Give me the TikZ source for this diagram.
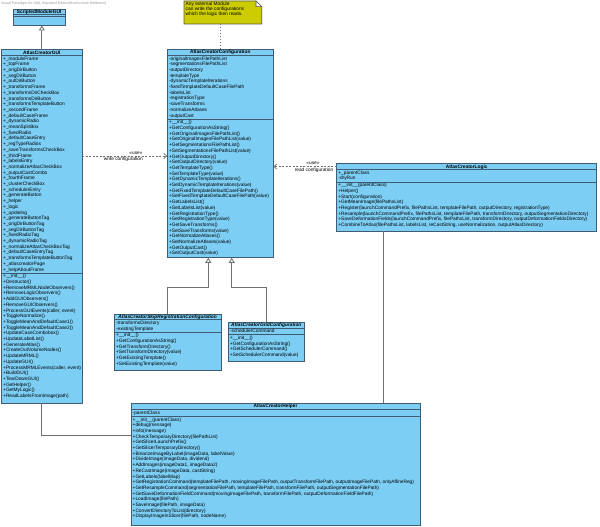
\documentclass[tikz,border=0pt]{standalone}
\usepackage{fontspec}
\setmainfont{Liberation Sans}
\usetikzlibrary{arrows.meta}
\definecolor{clsfill}{RGB}{124,206,244}
\definecolor{clsdraw}{RGB}{64,92,114}
\definecolor{notefill}{RGB}{204,204,0}
\definecolor{notedraw}{RGB}{90,90,60}
\definecolor{conn}{RGB}{112,112,112}
\definecolor{titlegray}{RGB}{150,150,150}
\newcommand\cf{\fontsize{4.8}{5.7}\selectfont}
\begin{document}
\begin{tikzpicture}[x=1pt,y=-1pt,
  cls/.style={draw=clsdraw, fill=clsfill, line width=0.8pt, anchor=north west, inner sep=0pt, outer sep=0pt},
  sepline/.style={draw=clsdraw, line width=0.6pt},
  txt/.style={anchor=north west, inner sep=0pt, align=left, font=\cf},
  hdr/.style={anchor=base, inner sep=0pt, font=\cf\bfseries},
  ahdr/.style={anchor=base, inner sep=0pt, font=\cf\bfseries\itshape},
  gen/.style={draw=conn, line width=0.8pt, -{Triangle[length=5pt, width=6pt, fill=white]}},
  dep/.style={draw=conn, line width=0.7pt, dash pattern=on 2pt off 1.5pt, -{Straight Barb[length=3pt, width=5pt]}},
  notelink/.style={draw=conn, line width=0.7pt, dash pattern=on 1.5pt off 1.5pt},
  assoc/.style={draw=conn, line width=0.8pt},
  lbl/.style={inner sep=0pt, font=\cf},
]
\fill[white] (0,0) rectangle (600,527);
\path[use as bounding box] (0,0) rectangle (600,527);

% title
\node[anchor=west, inner sep=0pt, text=titlegray, font=\fontsize{3.6}{4}\selectfont] (title) at (1,4) {Visual Paradigm for UML Standard Edition(Hochschule Heilbronn)};

% ScriptedModuleGUI
\node[cls, minimum width=52.3pt, minimum height=16.5pt] (smg) at (13,9) {};
\draw[sepline] (13,14.7) -- (65.3,14.7);
\draw[sepline] (13,16.5) -- (65.3,16.5);
\node[hdr] (smg-title) at (39.15,13.5) {ScriptedModuleGUI};

% AtlasCreatorGUI
\node[cls, minimum width=80.3pt, minimum height=353.5pt] (gui) at (1.7,49.5) {};
\draw[sepline] (1.7,55.3) -- (82,55.3);
\draw[sepline] (1.7,273.0) -- (82,273.0);
\node[hdr] (gui-title) at (41.85,54.1) {AtlasCreatorGUI};
\node[txt] (gui-attr) at (3.0,56.0) {\strut+\_moduleFrame\\+\_topFrame\\+\_origDirButton\\+\_segDirButton\\+\_outDirButton\\+\_transformsFrame\\+\_transformsDirCheckBox\\+\_transformsDirButton\\+\_transformsTemplateButton\\+\_secondFrame\\+\_defaultCaseFrame\\+\_dynamicRadio\\+\_meanSpinBox\\+\_fixedRadio\\+\_defaultCaseEntry\\+\_regTypeRadios\\+\_saveTransformsCheckBox\\+\_thirdFrame\\+\_labelsEntry\\+\_normalizeAtlasCheckBox\\+\_outputCastCombo\\+\_fourthFrame\\+\_clusterCheckBox\\+\_schedulerEntry\\+\_generateButton\\+\_helper\\+\_logic\\+\_updating\\+\_generateButtonTag\\+\_origDirButtonTag\\+\_segDirButtonTag\\+\_fixedRadioTag\\+\_dynamicRadioTag\\+\_normalizeAtlasCheckBoxTag\\+\_defaultCaseEntryTag\\+\_transformsTemplateButtonTag\\+\_atlascreatorPage\\+\_helpAboutFrame\strut};
\node[txt] (gui-meth) at (3.0,273.7) {\strut+\_\_init\_\_()\\+Destructor()\\+RemoveMRMLNodeObservers()\\+RemoveLogicObservers()\\+AddGUIObservers()\\+RemoveGUIObservers()\\+ProcessGUIEvents(caller, event)\\+ToggleNormalize()\\+ToggleMeanAndDefaultCase1()\\+ToggleMeanAndDefaultCase2()\\+UpdateCaseCombobox()\\+UpdateLabelList()\\+GenerateAtlas()\\+CreateOutVolumeNodes()\\+UpdateMRML()\\+UpdateGUI()\\+ProcessMRMLEvents(caller, event)\\+BuildGUI()\\+TearDownGUI()\\+GetHelper()\\+GetMyLogic()\\+ReadLabelsFromImage(path)\strut};

% AtlasCreatorConfiguration
\node[cls, minimum width=106pt, minimum height=208.5pt] (cfg) at (167.3,49.3) {};
\draw[sepline] (167.3,55.2) -- (273.3,55.2);
\draw[sepline] (167.3,119.0) -- (273.3,119.0);
\node[hdr] (cfg-title) at (220.3,54.0) {AtlasCreatorConfiguration};
\node[txt] (cfg-attr) at (168.8,55.9) {\strut-originalImagesFilePathList\\-segmentationsFilePathList\\-outputDirectory\\-templateType\\-dynamicTemplateIterations\\-fixedTemplateDefaultCaseFilePath\\-labelsList\\-registrationType\\-saveTransforms\\-normalizeAtlases\\-outputCast\strut};
\node[txt] (cfg-meth) at (168.8,119.7) {\strut+\_\_init\_\_()\\+GetConfigurationAsString()\\+GetOriginalImagesFilePathList()\\+SetOriginalImagesFilePathList(value)\\+GetSegmentationsFilePathList()\\+SetSegmentationsFilePathList(value)\\+GetOutputDirectory()\\+SetOutputDirectory(value)\\+GetTemplateType()\\+SetTemplateType(value)\\+GetDynamicTemplateIterations()\\+SetDynamicTemplateIterations(value)\\+GetFixedTemplateDefaultCaseFilePath()\\+SetFixedTemplateDefaultCaseFilePath(value)\\+GetLabelsList()\\+SetLabelsList(value)\\+GetRegistrationType()\\+SetRegistrationType(value)\\+GetSaveTransforms()\\+SetSaveTransforms(value)\\+GetNormalizeAtlases()\\+SetNormalizeAtlases(value)\\+GetOutputCast()\\+SetOutputCast(value)\strut};

% AtlasCreatorLogic
\node[cls, minimum width=260pt, minimum height=67.5pt] (logic) at (336.7,163.5) {};
\draw[sepline] (336.7,169.4) -- (596.7,169.4);
\draw[sepline] (336.7,181.9) -- (596.7,181.9);
\node[hdr] (logic-title) at (466.7,168.2) {AtlasCreatorLogic};
\node[txt] (logic-attr) at (338.2,170.1) {\strut+\_parentClass\\-dryRun\strut};
\node[txt] (logic-meth) at (338.2,182.6) {\strut+\_\_init\_\_(parentClass)\\+Helper()\\+Start(configuration)\\+GetMeanImage(filePathsList)\\+Register(launchCommandPrefix, filePathsList, templateFilePath, outputDirectory, registrationType)\\+Resample(launchCommandPrefix, filePathsList, templateFilePath, transformDirectory, outputSegmentationDirectory)\\+SaveDeformationFields(launchCommandPrefix, filePathsList, transformDirectory, outputDeformationFieldsDirectory)\\+CombineToAtlas(filePathsList, labelsList, reCastString, useNormalization, outputAtlasDirectory)\strut};

% AtlasCreatorSkipRegistrationConfiguration
\node[cls, minimum width=106.7pt, minimum height=55.7pt] (skip) at (114.3,314.3) {};
\draw[sepline] (114.3,319.5) -- (221,319.5);
\draw[sepline] (114.3,332.0) -- (221,332.0);
\node[ahdr] (skip-title) at (167.65,318.6) {AtlasCreatorSkipRegistrationConfiguration};
\node[txt] (skip-attr) at (115.8,320.2) {\strut-transformsDirectory\\-existingTemplate\strut};
\node[txt] (skip-meth) at (115.8,332.7) {\strut+\_\_init\_\_()\\+GetConfigurationAsString()\\+GetTransformDirectory()\\+SetTransformDirectory(value)\\+GetExistingTemplate()\\+SetExistingTemplate(value)\strut};

% AtlasCreatorGridConfiguration
\node[cls, minimum width=76pt, minimum height=39.4pt] (grid) at (228.3,322.3) {};
\draw[sepline] (228.3,327.8) -- (304.3,327.8);
\draw[sepline] (228.3,334.6) -- (304.3,334.6);
\node[ahdr] (grid-title) at (266.3,326.8) {AtlasCreatorGridConfiguration};
\node[txt] (grid-attr) at (229.8,328.5) {\strut-schedulerCommand\strut};
\node[txt] (grid-meth) at (229.8,335.3) {\strut+\_\_init\_\_()\\+GetConfigurationAsString()\\+GetSchedulerCommand()\\+SetSchedulerCommand(value)\strut};

% AtlasCreatorHelper
\node[cls, minimum width=289pt, minimum height=122pt] (helper) at (131,403) {};
\draw[sepline] (131,409.3) -- (420,409.3);
\draw[sepline] (131,416.2) -- (420,416.2);
\node[hdr] (helper-title) at (275.5,407.9) {AtlasCreatorHelper};
\node[txt] (helper-attr) at (132.5,410.0) {\strut-parentClass\strut};
\node[txt] (helper-meth) at (132.5,416.9) {\strut+\_\_init\_\_(parentClass)\\+debug(message)\\+info(message)\\+CheckTemporaryDirectory(filePathList)\\+GetSlicerLaunchPrefix()\\+GetSlicerTemporaryDirectory()\\+BinarizeImageByLabel(imageData, labelValue)\\+DivideImage(imageData, dividend)\\+AddImages(imageData1, imageData2)\\+ReCastImage(imageData, castString)\\+GetLabels(labelMap)\\+GetRegistrationCommand(templateFilePath, movingImageFilePath, outputTransformFilePath, outputImageFilePath, onlyAffineReg)\\+GetResampleCommand(segmentationFilePath, templateFilePath, transformFilePath, outputSegmentationFilePath)\\+GetSaveDeformationFieldCommand(movingImageFilePath, transformFilePath, outputDeformationFieldFilePath)\\+LoadImage(filePath)\\+SaveImage(filePath, imageData)\\+ConvertDirectoryToList(directory)\\+DisplayImageInSlicer(filePath, nodeName)\strut};

% Note
\node[inner sep=0pt, outer sep=0pt, minimum width=77.7pt, minimum height=23pt, anchor=north west] (note) at (184,1) {};
\filldraw[fill=notefill, draw=notedraw, line width=0.7pt] (note.north west) -- ([xshift=-5.7pt]note.north east) -- ([yshift=-5.7pt]note.north east) -- (note.south east) -- (note.south west) -- cycle;
\filldraw[fill=white, draw=notedraw, line width=0.6pt] ([xshift=-5.7pt]note.north east) -- ([xshift=-5.7pt,yshift=-5.7pt]note.north east) -- ([yshift=-5.7pt]note.north east) -- cycle;
\node[txt, font=\fontsize{4.8}{5.0}\selectfont] (note-text) at (185.5,2.0) {Any external Module\\can write the configurations\\which the logic then reads.};

% connectors
\draw[gen] (gui.north) -- (gui.north |- smg.south);
\draw[notelink] (cfg.north |- note.south) -- (cfg.north);

\coordinate (wc) at (0,156);
\draw[dep] (gui.east |- wc) -- (cfg.west |- wc);
\node[lbl] (wc-st) at (136,153) {«use»};
\node[lbl] (wc-lbl) at (123.3,159.6) {write configuration};

\coordinate (rc) at (0,166.5);
\draw[dep] (logic.west |- rc) -- (cfg.east |- rc);
\node[lbl] (rc-st) at (313,163.2) {«use»};
\node[lbl] (rc-lbl) at (314,170.2) {read configuration};

\coordinate (sk) at ([xshift=-12pt]cfg.south);
\coordinate (gr) at ([xshift=11.4pt]cfg.south);
\draw[gen] (skip.north) |- ([yshift=-30pt]sk) -- (sk);
\draw[gen] (grid.north) |- ([yshift=-30pt]gr) -- (gr);

\coordinate (gh) at (0,435.7);
\draw[assoc] (gui.south) |- (helper.west |- gh);
\coordinate (lh) at (383.2,0);
\draw[assoc] (logic.south -| lh) -- (helper.north -| lh);
\end{tikzpicture}
\end{document}
